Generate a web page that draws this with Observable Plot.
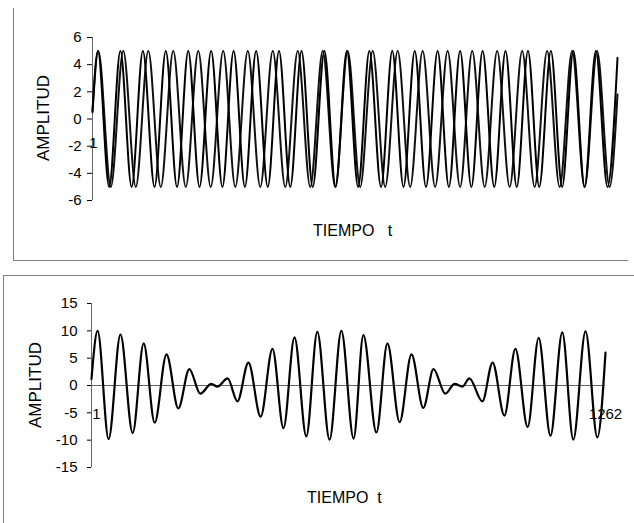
<!DOCTYPE html>
<html>
<head>
<meta charset="utf-8">
<script src="https://cdn.jsdelivr.net/npm/d3@7"></script>
<script src="https://cdn.jsdelivr.net/npm/@observablehq/plot@0.6"></script>
<style>
  html, body { margin: 0; padding: 0; background: #fff; }
  body { width: 634px; height: 523px; overflow: hidden; position: relative;
         font-family: "Liberation Sans", Arial, sans-serif; }
  .panel { position: absolute; left: 0; }
  .ln { position: absolute; background: #7f7f7f; }
  .ttl { position: absolute; font-size: 16px; color: #000; white-space: pre; line-height: 1; }
  .rot { transform: translate(-50%, -50%) rotate(-90deg); font-size: 17px; }
</style>
</head>
<body>
<div class="ln" style="left:13px;top:8px;width:1px;height:253px;"></div>
<div class="ln" style="left:13px;top:260px;width:615px;height:1px;"></div>
<div class="ln" style="left:3px;top:275px;width:631px;height:1px;"></div>
<div class="ln" style="left:3px;top:275px;width:1px;height:248px;"></div>

<div id="top" class="panel" style="top:0px;"></div>
<div id="bot" class="panel" style="top:275px;"></div>

<div class="ttl rot" style="left:43px;top:118px;">AMPLITUD</div>
<div class="ttl" style="left:313px;top:223px;">TIEMPO   t</div>
<div class="ttl rot" style="left:35px;top:385px;">AMPLITUD</div>
<div class="ttl" style="left:307px;top:490px;">TIEMPO  t</div>

<script>
// ---- data (sample index t, amplitude at extrema) ----
const waveA_t = [1,14,41,68,95,122,150,177,204,231,258,286,313,340,367,394,422,449,476,503,530,558,585,612,639,666,694,721,748,775,802,830,857,884,911,938,966,993,1020,1047,1074,1102,1129,1156,1183,1210,1238,1262];
const waveA_v = [0.6,5,-5,5,-5,5,-5,5,-5,5,-5,5,-5,5,-5,5,-5,5,-5,5,-5,5,-5,5,-5,5,-5,5,-5,5,-5,5,-5,5,-5,5,-5,5,-5,5,-5,5,-5,5,-5,5,-5,4.5];

const waveB_t = [1,15,45,75,105,135,165,195,225,255,285,315,344,374,404,434,464,494,524,554,584,614,644,674,704,734,764,794,824,854,884,913,943,973,1003,1033,1063,1093,1123,1153,1183,1213,1243,1262];
const waveB_v = [0.5,5,-5,5,-5,5,-5,5,-5,5,-5,5,-5,5,-5,5,-5,5,-5,5,-5,5,-5,5,-5,5,-5,5,-5,5,-5,5,-5,5,-5,5,-5,5,-5,5,-5,5,-5,1.8];

const sum_t = [1,16,43,72,102,129,156,185,214,241,268,295,310,335,359,386,416,445,472,499,528,555,585,614,644,668,700,727,757,786,815,840,869,892,911,928,960,985,1014,1041,1071,1098,1127,1156,1183,1213,1242,1262];
const sum_v = [1.2,10,-9.8,9.3,-8.7,7.7,-6.8,5.7,-4.2,3,-1.5,0.3,-0.2,1.3,-2.9,4.2,-5.7,6.7,-7.8,8.8,-9.3,9.8,-9.9,10,-9.7,9.2,-8.6,7.7,-6.7,5.7,-4.1,3,-1.5,0.3,-0.2,1.3,-2.9,4.2,-5.5,6.7,-7.6,8.7,-9.2,9.7,-9.9,9.9,-9.5,6];

const yTicksTop = [-6,-4,-2,0,2,4,6];
const yTicksBot = [-15,-10,-5,0,5,10,15];
const catLabels = ["1","1262"];
const catPos = [1,1262];
const tDomain = [1,1262];

// ---- build tables ----
const A = waveA_t.map((t,i)=>({t, v: waveA_v[i]}));
const B = waveB_t.map((t,i)=>({t, v: waveB_v[i]}));
const S = sum_t.map((t,i)=>({t, v: sum_v[i]}));
const cats = catLabels.map((s,i)=>({label:s, t:catPos[i]}));

const fmt = d => String(d);
const baseStyle = {fontFamily:"'Liberation Sans', Arial, sans-serif", fontSize:"15px", color:"#000", background:"transparent", overflow:"visible"};

const topPlot = Plot.plot({
  width: 634, height: 260,
  marginLeft: 92, marginRight: 17, marginTop: 37, marginBottom: 60,
  style: baseStyle,
  x: {domain: tDomain, axis: null},
  y: {domain: [-6,6], ticks: yTicksTop, tickSize: 5, tickPadding: 6, tickFormat: fmt, label: null},
  marks: [
    Plot.ruleX([tDomain[0]], {y1: -6, y2: 6, stroke: "#666"}),
    Plot.text([cats[0]], {x: "t", y: () => -1.8, text: "label", fontSize: 15, fill: "#000", dx: 1}),
    Plot.line(B, {x: "t", y: "v", curve: "monotone-x", stroke: "#111", strokeWidth: 2}),
    Plot.line(A, {x: "t", y: "v", curve: "monotone-x", stroke: "#000", strokeWidth: 2})
  ]
});
document.getElementById("top").appendChild(topPlot);

const botPlot = Plot.plot({
  width: 634, height: 248,
  marginLeft: 91, marginRight: 29, marginTop: 28, marginBottom: 56,
  style: baseStyle,
  x: {domain: tDomain, axis: null},
  y: {domain: [-15,15], ticks: yTicksBot, tickSize: 4, tickPadding: 10, tickFormat: fmt, label: null},
  marks: [
    Plot.ruleX([tDomain[0]], {y1: -15, y2: 15, stroke: "#666"}),
    Plot.ruleY([0], {x1: tDomain[0], x2: tDomain[1], stroke: "#666"}),
    Plot.text([cats[0]], {x: "t", y: () => -5.3, text: "label", fontSize: 15, fill: "#000", dx: 5}),
    Plot.text([cats[1]], {x: "t", y: () => -5.3, text: "label", fontSize: 15, fill: "#000", dx: 0}),
    Plot.line(S, {x: "t", y: "v", curve: "monotone-x", stroke: "#000", strokeWidth: 2.2})
  ]
});
document.getElementById("bot").appendChild(botPlot);
</script>
</body>
</html>
